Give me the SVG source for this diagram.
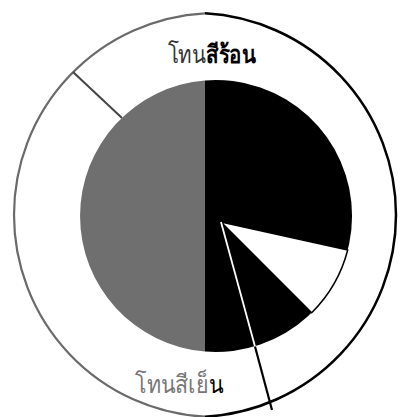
<svg xmlns="http://www.w3.org/2000/svg" width="416" height="417" viewBox="0 0 416 417">
  <style>
    .lbl { font-family: "DejaVu Sans", "Noto Sans", sans-serif; font-size: 25px; }
  </style>
  <rect width="416" height="417" fill="#fff"/>
  <g id="outer-ring">
    <path d="M205,13.3 A202,202 0 0 0 205,416.7" fill="none" stroke="#6a6a6a" stroke-width="2.2"/>
    <path d="M205,13.3 A202,202 0 0 1 205,416.7" fill="none" stroke="#000" stroke-width="2.5"/>
  </g>
  <g id="pie">
    <path id="cool" d="M205,80.45 A136,136 0 0 0 205,351.55 Z" fill="#6f6f6f"/>
    <path id="warm" d="M205,80.45 A136,136 0 1 1 205,351.55 Z" fill="#000"/>
    <path id="white-wedge" d="M221,222 L347.7,250 A136,136 0 0 1 311.7,312.7 Z" fill="#fff" stroke="#000" stroke-width="1.5"/>
  </g>
  <g id="connectors">
    <line x1="73" y1="72" x2="122" y2="118" stroke="#444" stroke-width="2"/>
    <line x1="221" y1="222" x2="255" y2="346.5" stroke="#fff" stroke-width="1.8"/>
    <line x1="255" y1="346.5" x2="272" y2="410" stroke="#000" stroke-width="2.2"/>
  </g>
  <g id="label-warm" transform="translate(212,63) scale(0.82,1)">
    <text class="lbl" x="0" y="0" text-anchor="middle"><tspan fill="#333">โทน</tspan><tspan fill="#000" font-weight="bold">สีร้อน</tspan></text>
  </g>
  <g id="label-cool" transform="translate(179,393) scale(0.86,1)">
    <text class="lbl" x="0" y="0" text-anchor="middle"><tspan fill="#777">โทนสีเย็</tspan><tspan fill="#000">น</tspan></text>
  </g>
</svg>
